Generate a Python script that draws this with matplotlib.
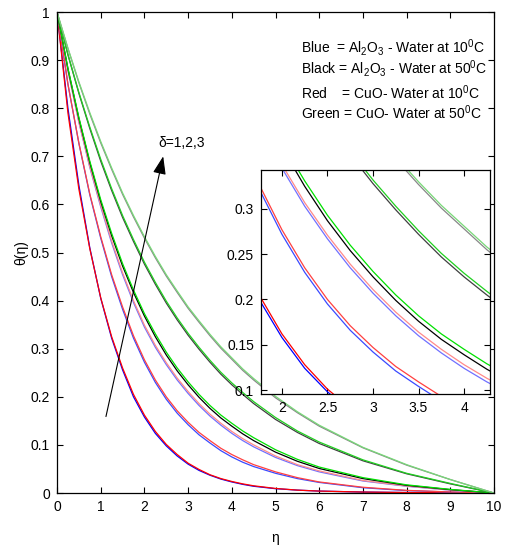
import matplotlib
matplotlib.use('Agg')
import matplotlib.pyplot as plt

plt.rcParams['font.family'] = ['Liberation Sans', 'DejaVu Sans']
plt.rcParams['mathtext.default'] = 'regular'

# eta grid and temperature profiles
eta = [0, 0.25, 0.5, 0.75, 1, 1.25, 1.5, 1.75, 2, 2.25, 2.5, 2.75, 3, 3.25, 3.5,
       3.75, 4, 4.25, 4.5, 5, 5.5, 6, 7, 8, 9, 10]

# delta = 1
blue_1 = [1, 0.800, 0.640, 0.510, 0.405, 0.322, 0.256, 0.200, 0.158, 0.124, 0.098, 0.077, 0.060,
          0.047, 0.037, 0.029, 0.023, 0.018, 0.014, 0.009, 0.006, 0.004, 0.002, 0.001, 0.0005, 0]
red_1 = [1, 0.790, 0.632, 0.508, 0.406, 0.325, 0.260, 0.205, 0.162, 0.128, 0.101, 0.080, 0.062,
         0.049, 0.038, 0.030, 0.024, 0.019, 0.015, 0.0095, 0.006, 0.004, 0.002, 0.001, 0.0005, 0]
black_1 = [1, 0.882, 0.779, 0.687, 0.606, 0.535, 0.472, 0.417, 0.368, 0.325, 0.287, 0.254, 0.225,
           0.199, 0.176, 0.156, 0.139, 0.123, 0.109, 0.085, 0.066, 0.051, 0.030, 0.016, 0.007, 0]
green_1 = [1, 0.883, 0.781, 0.690, 0.610, 0.540, 0.477, 0.422, 0.373, 0.331, 0.293, 0.260, 0.231,
           0.205, 0.182, 0.162, 0.145, 0.129, 0.115, 0.090, 0.070, 0.054, 0.032, 0.017, 0.0075, 0]

# delta = 2
blue_2 = [1, 0.850, 0.727, 0.620, 0.530, 0.450, 0.382, 0.322, 0.272, 0.230, 0.195, 0.166, 0.142,
          0.121, 0.104, 0.088, 0.075, 0.064, 0.055, 0.041, 0.030, 0.022, 0.011, 0.005, 0.002, 0]
red_2 = [1, 0.850, 0.728, 0.622, 0.533, 0.454, 0.387, 0.327, 0.277, 0.235, 0.200, 0.171, 0.147,
         0.126, 0.109, 0.093, 0.080, 0.069, 0.059, 0.044, 0.032, 0.023, 0.012, 0.0055, 0.0022, 0]
black_2 = [1, 0.911, 0.831, 0.758, 0.690, 0.629, 0.573, 0.523, 0.476, 0.434, 0.395, 0.360, 0.328,
           0.299, 0.272, 0.247, 0.225, 0.205, 0.186, 0.153, 0.126, 0.103, 0.067, 0.040, 0.019, 0]
green_2 = [1, 0.912, 0.833, 0.761, 0.694, 0.633, 0.577, 0.527, 0.480, 0.438, 0.399, 0.364, 0.332,
           0.303, 0.276, 0.251, 0.229, 0.209, 0.190, 0.157, 0.129, 0.106, 0.069, 0.041, 0.020, 0]

# delta = 3
blue_3 = [1, 0.878, 0.771, 0.677, 0.595, 0.520, 0.454, 0.396, 0.345, 0.303, 0.267, 0.235, 0.207,
          0.182, 0.160, 0.141, 0.124, 0.109, 0.096, 0.074, 0.057, 0.044, 0.025, 0.014, 0.006, 0]
red_3 = [1, 0.878, 0.772, 0.679, 0.598, 0.524, 0.458, 0.400, 0.349, 0.307, 0.271, 0.239, 0.211,
         0.186, 0.164, 0.145, 0.128, 0.113, 0.100, 0.077, 0.059, 0.046, 0.026, 0.0145, 0.0062, 0]
black_3 = [1, 0.924, 0.853, 0.788, 0.728, 0.673, 0.621, 0.574, 0.530, 0.489, 0.451, 0.417, 0.384,
           0.355, 0.327, 0.301, 0.278, 0.255, 0.235, 0.198, 0.167, 0.139, 0.094, 0.058, 0.028, 0]
green_3 = [1, 0.925, 0.855, 0.791, 0.731, 0.676, 0.624, 0.577, 0.533, 0.492, 0.454, 0.420, 0.387,
           0.358, 0.330, 0.304, 0.281, 0.258, 0.238, 0.201, 0.169, 0.141, 0.095, 0.059, 0.028, 0]

curves = [
    (blue_1, '#0000ff'), (red_1, '#ff0000'),
    (blue_2, '#3a4aff'), (red_2, '#ff4040'),
    (blue_3, '#7070ff'), (red_3, '#ff8a8a'),
    (black_1, '#000000'), (green_1, '#00e000'),
    (black_2, '#404040'), (green_2, '#20d020'),
    (black_3, '#888888'), (green_3, '#78d878'),
]

fs = 10

fig = plt.figure(figsize=(5.05, 5.47), dpi=100)
ax = fig.add_axes([0.1129, 0.0987, 0.8653, 0.8793])

for y, c in curves:
    ax.plot(eta, y, color=c, lw=0.9)

ax.set_xlim(0, 10)
ax.set_ylim(0, 1)
ax.set_xticks(range(0, 11))
ax.set_xticklabels([str(i) for i in range(0, 11)])
yt = [i / 10 for i in range(0, 11)]
ax.set_yticks(yt)
ax.set_yticklabels(['0', '0.1', '0.2', '0.3', '0.4', '0.5', '0.6', '0.7', '0.8', '0.9', '1'])
ax.tick_params(direction='in', top=True, right=True, length=4, width=0.8, labelsize=fs, pad=5)
for s in ax.spines.values():
    s.set_linewidth(0.9)

fig.text(21 / 505, 1 - 253 / 547, 'θ(η)', rotation=90, ha='center', va='center', fontsize=fs)
fig.text(275 / 505, 1 - 538 / 547, 'η', ha='center', va='center', fontsize=fs)

# colour key
ax.text(5.58, 0.916, r'Blue  = Al$_2$O$_3$ - Water at 10$^0$C', fontsize=fs, va='baseline')
ax.text(5.58, 0.872, r'Black = Al$_2$O$_3$ - Water at 50$^0$C', fontsize=fs, va='baseline')
ax.text(5.58, 0.820, r'Red    = CuO- Water at 10$^0$C', fontsize=fs, va='baseline')
ax.text(5.58, 0.777, r'Green = CuO- Water at 50$^0$C', fontsize=fs, va='baseline')

ax.annotate('', xy=(2.43, 0.70), xytext=(1.12, 0.159),
            arrowprops=dict(arrowstyle='-|>,head_length=0.55,head_width=0.2',
                            color='k', lw=0.8, mutation_scale=20, shrinkA=0, shrinkB=0))
ax.text(2.31, 0.728, 'δ=1,2,3', fontsize=fs, va='center', ha='left')

# zoomed inset
ax2 = fig.add_axes([0.5168, 0.2797, 0.4535, 0.4095])
for y, c in curves:
    ax2.plot(eta, y, color=c, lw=0.9)
ax2.set_xlim(1.77, 4.285)
ax2.set_ylim(0.0956, 0.343)
ax2.set_xticks([2, 2.5, 3, 3.5, 4])
ax2.set_xticklabels(['2', '2.5', '3', '3.5', '4'])
ax2.set_yticks([0.1, 0.15, 0.2, 0.25, 0.3])
ax2.set_yticklabels(['0.1', '0.15', '0.2', '0.25', '0.3'])
ax2.tick_params(direction='in', top=True, right=True, length=4, width=0.8, labelsize=fs, pad=5)
for s in ax2.spines.values():
    s.set_linewidth(0.9)

fig.savefig('out.png', dpi=100)
